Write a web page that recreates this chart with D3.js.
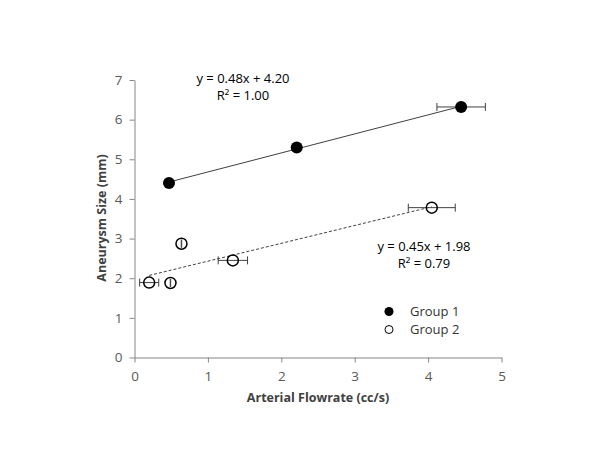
<!DOCTYPE html>
<html>
<head>
<meta charset="utf-8">
<script src="https://cdn.jsdelivr.net/npm/d3@7"></script>
<style>
  body { margin: 0; background: #fff; }
  text { font-family: "Open Sans", "Liberation Sans", sans-serif; }
</style>
</head>
<body>
<script>
// group 1 (filled)
var g1X = [0.47, 2.21, 4.45];
var g1Y = [4.40, 5.30, 6.32];
var g1Err = [0, 0, 0.33];
// group 2 (open)
var g2X = [0.20, 0.49, 0.64, 1.34, 4.05];
var g2Y = [1.89, 1.88, 2.87, 2.45, 3.78];
var g2Err = [0.13, 0.003, 0.003, 0.20, 0.32];

var fit1 = { slope: 0.48, icpt: 4.20, eq: "y = 0.48x + 4.20", r2: "R\u00b2 = 1.00" };
var fit2 = { slope: 0.45, icpt: 1.98, eq: "y = 0.45x + 1.98", r2: "R\u00b2 = 0.79" };

var xTicks = [0, 1, 2, 3, 4, 5];
var yTicks = [0, 1, 2, 3, 4, 5, 6, 7];
var seriesNames = ["Group 1", "Group 2"];

var w = 600, h = 467;
var svg = d3.select("body").append("svg").attr("width", w).attr("height", h);

var x = d3.scaleLinear().domain([0, 5]).range([134.5, 501.5]);
var y = d3.scaleLinear().domain([0, 7]).range([357.5, 80]);

var axisCol = "#868686";
var labCol = "#595959";

// axes
var xAxis = svg.append("g").attr("transform", "translate(0," + y(0) + ")")
  .call(d3.axisBottom(x).tickValues(xTicks).tickFormat(d3.format("d")).tickSize(5).tickSizeOuter(0).tickPadding(9));
var yAxis = svg.append("g").attr("transform", "translate(" + x(0) + ",0)")
  .call(d3.axisLeft(y).tickValues(yTicks).tickFormat(d3.format("d")).tickSize(5).tickSizeOuter(0).tickPadding(7));
[xAxis, yAxis].forEach(function(a) {
  a.select(".domain").attr("stroke", axisCol);
  a.selectAll(".tick line").attr("stroke", axisCol);
  a.selectAll(".tick text").attr("fill", labCol).style("font-size", "13.5px")
    .style("font-family", "Open Sans, Liberation Sans, sans-serif");
});

svg.append("text").attr("x", 318).attr("y", 402).attr("text-anchor", "middle")
  .style("font-size", "12.5px").style("font-weight", "bold").attr("fill", "#404040")
  .text("Arterial Flowrate (cc/s)");
svg.append("text").attr("transform", "translate(106,218) rotate(-90)").attr("text-anchor", "middle")
  .style("font-size", "12.5px").style("font-weight", "bold").attr("fill", "#404040")
  .text("Aneurysm Size (mm)");

// trend lines
function trend(xs, f, dash) {
  var x0 = d3.min(xs), x1 = d3.max(xs);
  svg.append("line")
    .attr("x1", x(x0)).attr("y1", y(f.slope * x0 + f.icpt))
    .attr("x2", x(x1)).attr("y2", y(f.slope * x1 + f.icpt))
    .attr("stroke", "#404040").attr("stroke-width", 1)
    .attr("stroke-dasharray", dash);
}
trend(g1X, fit1, null);
trend(g2X, fit2, "3,2");

// error bars
function errBars(xs, ys, es) {
  var d = xs.map(function(v, i) { return { x: v, y: ys[i], e: es[i] }; }).filter(function(d) { return d.e > 0; });
  var g = svg.append("g").attr("stroke", "#404040").attr("stroke-width", 1);
  g.selectAll(".eb").data(d).enter().append("line")
    .attr("x1", function(d) { return x(d.x - d.e); }).attr("x2", function(d) { return x(d.x + d.e); })
    .attr("y1", function(d) { return y(d.y); }).attr("y2", function(d) { return y(d.y); });
  g.selectAll(".c1").data(d).enter().append("line")
    .attr("x1", function(d) { return x(d.x - d.e); }).attr("x2", function(d) { return x(d.x - d.e); })
    .attr("y1", function(d) { return y(d.y) - 4; }).attr("y2", function(d) { return y(d.y) + 4; });
  g.selectAll(".c2").data(d).enter().append("line")
    .attr("x1", function(d) { return x(d.x + d.e); }).attr("x2", function(d) { return x(d.x + d.e); })
    .attr("y1", function(d) { return y(d.y) - 4; }).attr("y2", function(d) { return y(d.y) + 4; });
}
errBars(g1X, g1Y, g1Err);
errBars(g2X, g2Y, g2Err);

// markers
svg.selectAll(".p1").data(g1X).enter().append("circle")
  .attr("cx", function(d) { return x(d); })
  .attr("cy", function(d, i) { return y(g1Y[i]); })
  .attr("r", 6).attr("fill", "#000");
svg.selectAll(".p2").data(g2X).enter().append("circle")
  .attr("cx", function(d) { return x(d); })
  .attr("cy", function(d, i) { return y(g2Y[i]); })
  .attr("r", 5.5).attr("fill", "none").attr("stroke", "#000").attr("stroke-width", 1.5);

// equations (two lines in one text block)
function eqLabel(f, cx, by) {
  var t = svg.append("text").attr("text-anchor", "middle")
    .style("font-size", "13px").attr("fill", "#000");
  t.append("tspan").attr("x", cx).attr("y", by).text(f.eq);
  t.append("tspan").attr("x", cx).attr("y", by + 16.5).text(f.r2);
}
eqLabel(fit1, 243, 83);
eqLabel(fit2, 424, 251);

// legend
var leg = svg.append("g");
seriesNames.forEach(function(n, i) {
  var ly = 311.5 + i * 18;
  leg.append("circle").attr("cx", 389).attr("cy", ly).attr("r", i === 0 ? 4.5 : 4)
    .attr("fill", i === 0 ? "#000" : "none").attr("stroke", i === 0 ? "none" : "#000").attr("stroke-width", 1);
  leg.append("text").attr("x", 410).attr("y", ly + 4.5)
    .style("font-size", "13px").attr("fill", "#333").text(n);
});
</script>
</body>
</html>
